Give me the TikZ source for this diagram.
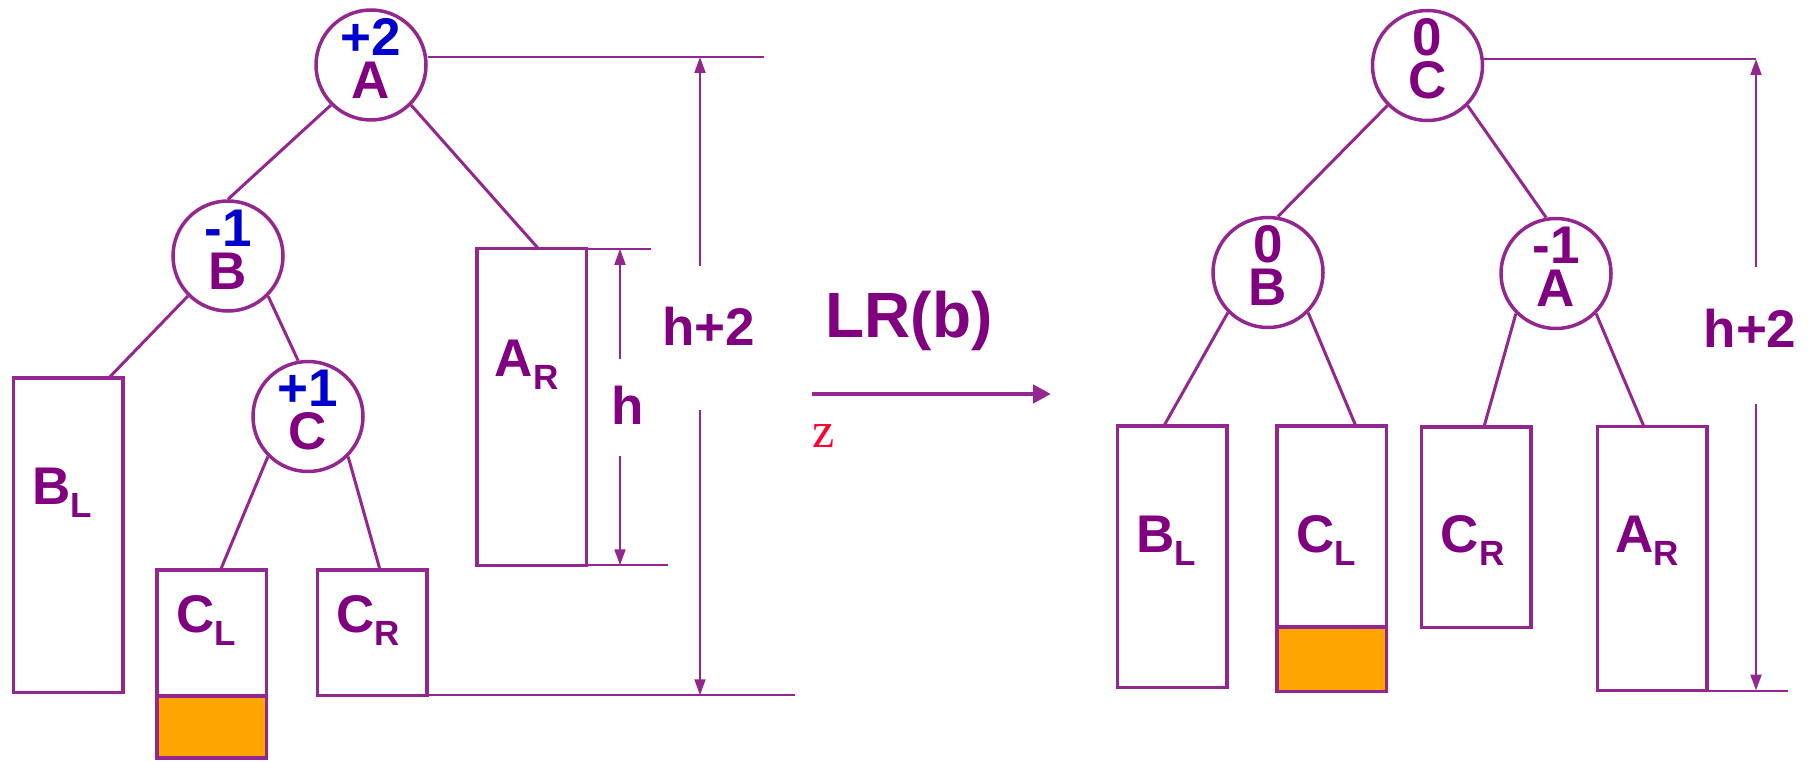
\documentclass[tikz,border=0pt]{standalone}
\usepackage{fontspec}
\setmainfont{Liberation Sans}
\newfontfamily\zfont{Liberation Serif}
\usetikzlibrary{arrows.meta,positioning}
\definecolor{linec}{HTML}{93278F}
\definecolor{keyc}{HTML}{800080}
\definecolor{balc}{HTML}{0000CC}
\definecolor{grown}{HTML}{FFA500}
\definecolor{zred}{HTML}{FF0033}
\newcommand\tsub[1]{\raisebox{-13pt}{\fontsize{35}{35}\selectfont #1}}
\tikzset{
  ring/.style={circle, draw=linec, line width=3.5pt, minimum size=110pt, inner sep=0pt},
  subtree/.style={draw=linec, fill=white, line width=3.5pt, minimum width=109.5pt, inner sep=0pt, outer sep=0pt},
  lettr/.style={text=keyc, font=\bfseries\fontsize{53}{60}\selectfont, inner sep=0pt},
  bfac/.style={lettr, text=balc},
  branch/.style={draw=linec, line width=3pt},
  dimline/.style={draw=linec, line width=2pt},
  dimtip/.style={dimline, -{Triangle[length=16pt,width=11pt]}},
}
\begin{document}
\begin{tikzpicture}[x=1pt, y=-1pt]
    \useasboundingbox (0,0) rectangle (1810,762);

    % before: A(+2) - B(-1) - C(+1)
    \node[ring] (A) at (371,65) {};
    \node[bfac] (Abf) at ([yshift=28pt]A.center) {+2};
    \node[lettr] (Akey) at ([yshift=-15pt]A.center) {A};
    \node[ring] (B) at (228,256) {};
    \node[bfac] (Bbf) at ([yshift=28pt]B.center) {-1};
    \node[lettr] (Bkey) at ([yshift=-15pt]B.center) {B};
    \node[ring] (C) at (308,416.5) {};
    \node[bfac] (Cbf) at ([yshift=28pt]C.center) {+1};
    \node[lettr] (Ckey) at ([yshift=-15pt]C.center) {C};

    \node[subtree, minimum height=314.5pt] (BL) at (68,535) {};
    \node[subtree, minimum height=126pt] (CL) at (211.5,633) {};
    \node[subtree, fill=grown, minimum height=62pt, below=0pt of CL] (CLx) {};
    \node[subtree, minimum height=125.5pt] (CR) at (372,632.5) {};
    \node[subtree, minimum height=316.5pt] (AR) at (531.5,407) {};
    \node[lettr, anchor=base] (BLt) at (62,504) {B\tsub{L}};
    \node[lettr, anchor=base] (CLt) at (206,632) {C\tsub{L}};
    \node[lettr, anchor=base] (CRt) at (368,632) {C\tsub{R}};
    \node[lettr, anchor=base] (ARt) at (526.5,376) {A\tsub{R}};

    \draw[branch] (A.south west) -- (B.north);
    \draw[branch] (A.south east) -- ([xshift=7pt]AR.north);
    \draw[branch] (B.south west) -- ([xshift=41pt]BL.north);
    \draw[branch] (B.south east) -- (C.100);
    \draw[branch] (C.south west) -- ([xshift=9pt]CL.north);
    \draw[branch] (C.south east) -- ([xshift=8pt]CR.north);

    % heights on the left
    \coordinate (topL) at (764,57);
    \coordinate (botL) at (795,695.25);
    \coordinate (hTop) at (651,248.75);
    \coordinate (hBot) at (668,565.25);
    \coordinate (hhLa) at (700,266);
    \coordinate (hhLb) at (700,410);
    \coordinate (hLa) at (620,359);
    \coordinate (hLb) at (620,456);
    \draw[dimline] ([yshift=8pt]A.east) -- (topL);
    \draw[dimline] (CR.south east) -- (botL);
    \draw[dimline] ([xshift=-15pt]AR.north east) -- (hTop);
    \draw[dimline] (AR.south east) -- (hBot);
    \draw[dimtip] (hhLa) -- (hhLa |- topL);
    \draw[dimtip] (hhLb) -- (hhLb |- botL);
    \draw[dimtip] (hLa) -- (hLa |- hTop);
    \draw[dimtip] (hLb) -- (hLb |- hBot);
    \node[lettr, anchor=base] (hhL) at (708.5,345) {h+2};
    \node[lettr, anchor=base] (hL) at (628,424) {h};

    % rotation
    \coordinate (goA) at (811.5,394);
    \coordinate (goB) at (1051,394);
    \draw[draw=linec, line width=4.5pt, -{Triangle[length=18pt,width=18pt]}] (goA) -- (goB);
    \node[lettr, font=\bfseries\fontsize{64}{70}\selectfont, anchor=base] (lr) at (909,337) {LR(b)};
    \node[text=zred, font=\zfont\fontsize{50}{55}\selectfont, inner sep=0pt, anchor=base] (zz) at (824,447) {z};

    % after: C(0) - B(0), A(-1)
    \node[ring] (Cr) at (1427.5,65.5) {};
    \node[lettr] (Crbf) at ([yshift=28pt]Cr.center) {0};
    \node[lettr] (Crkey) at ([yshift=-15pt]Cr.center) {C};
    \node[ring] (Br) at (1268,272.5) {};
    \node[lettr] (Brbf) at ([yshift=28pt]Br.center) {0};
    \node[lettr] (Brkey) at ([yshift=-15pt]Br.center) {B};
    \node[ring] (Ar) at (1556,273.5) {};
    \node[lettr] (Arbf) at ([yshift=28pt]Ar.center) {-1};
    \node[lettr] (Arkey) at ([yshift=-15pt]Ar.center) {A};

    \node[subtree, minimum height=261.5pt] (BLr) at (1172,556.5) {};
    \node[subtree, minimum height=201.25pt] (CLr) at (1331.75,526.4) {};
    \node[subtree, fill=grown, minimum height=64.25pt, below=0pt of CLr] (CLrx) {};
    \node[subtree, minimum height=200.5pt] (CRr) at (1476,527) {};
    \node[subtree, minimum height=263.8pt] (ARr) at (1652,558.6) {};
    \node[lettr, anchor=base] (BLrt) at (1166.5,552) {B\tsub{L}};
    \node[lettr, anchor=base] (CLrt) at (1326,552) {C\tsub{L}};
    \node[lettr, anchor=base] (CRrt) at (1472.5,552) {C\tsub{R}};
    \node[lettr, anchor=base] (ARrt) at (1647,552) {A\tsub{R}};

    \draw[branch] (Cr.south west) -- (Br.80);
    \draw[branch] (Cr.south east) -- (Ar.100);
    \draw[branch] (Br.south west) -- ([xshift=-8pt]BLr.north);
    \draw[branch] (Br.south east) -- ([xshift=24pt]CLr.north);
    \draw[branch] (Ar.south west) -- ([xshift=8pt]CRr.north);
    \draw[branch] (Ar.south east) -- ([xshift=-8pt]ARr.north);

    % height on the right
    \coordinate (topR) at (1756,59);
    \coordinate (botR) at (1788,690.5);
    \coordinate (hhRa) at (1756,267);
    \coordinate (hhRb) at (1756,404);
    \draw[dimline] ([yshift=6.5pt]Cr.east) -- (topR);
    \draw[dimline] (ARr.south east) -- (botR);
    \draw[dimtip] (hhRa) -- (hhRa |- topR);
    \draw[dimtip] (hhRb) -- (hhRb |- botR);
    \node[lettr, anchor=base] (hhR) at (1750,347) {h+2};
\end{tikzpicture}
\end{document}
